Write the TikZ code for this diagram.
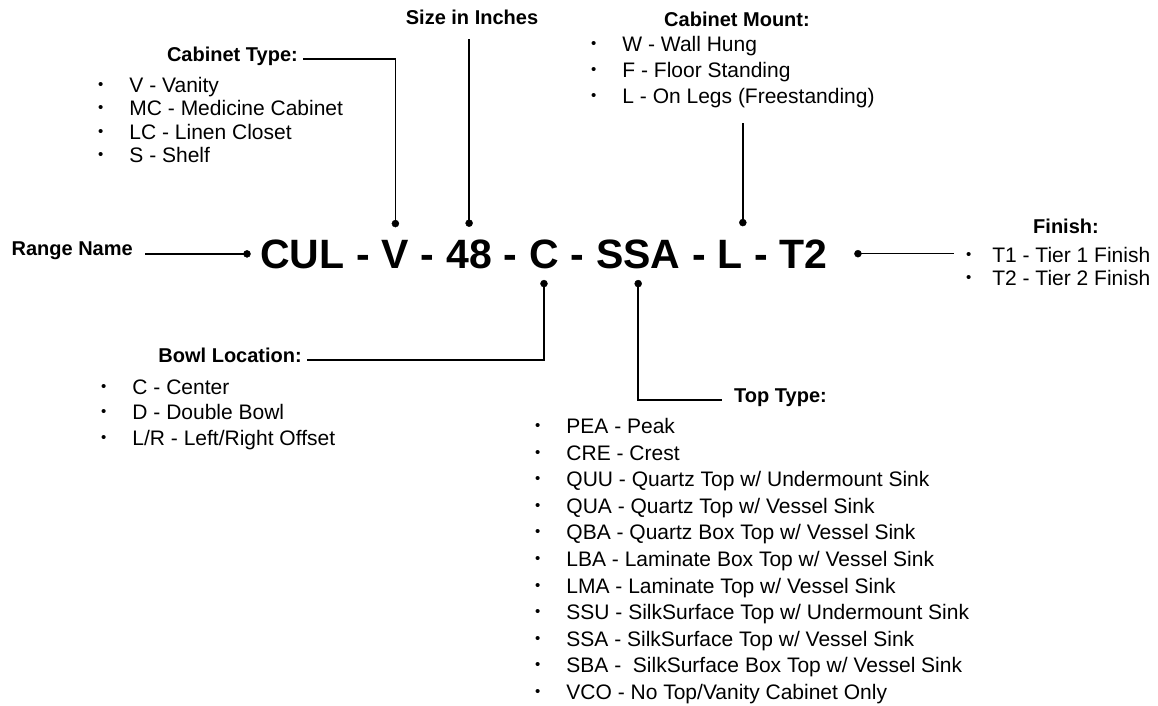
\documentclass[tikz,border=0pt]{standalone}
\usepackage{fontspec}
\setmainfont{Liberation Sans}
\usetikzlibrary{positioning}
\newcommand\itm[1][26pt]{\raisebox{3pt}{\fontsize{15}{15}\selectfont\textbullet}\hspace{#1}}
\newcommand\optlist[2]{\fontsize{21}{#1}\selectfont\begin{tabular}[t]{@{}l@{}}#2\end{tabular}}
\begin{document}
\begin{tikzpicture}[x=1pt, y=-1pt,
    lbl/.style={font=\fontsize{20}{24}\selectfont\bfseries, inner xsep=5pt, inner ysep=0pt},
    seg/.style={font=\fontsize{41}{41}\selectfont\bfseries, inner sep=0pt},
    hyph/.style={seg, inner xsep=11.4pt},
    lst/.style={inner sep=0pt, anchor=base west},
    wire/.style={line width=1.5pt}]
    \useasboundingbox (0,0) rectangle (1158,706);
    % Product code, one node per part
    \node[seg, anchor=base west] (cul) at (260,268) {CUL};
    \node[hyph, base right=0pt of cul] (h1) {-};
    \node[seg, base right=0pt of h1] (v) {V};
    \node[hyph, base right=0pt of v] (h2) {-};
    \node[seg, base right=0pt of h2] (inch) {48};
    \node[hyph, base right=0pt of inch] (h3) {-};
    \node[seg, base right=0pt of h3] (c) {C};
    \node[hyph, base right=0pt of c] (h4) {-};
    \node[seg, base right=0pt of h4] (ssa) {SSA};
    \node[hyph, base right=0pt of ssa] (h5) {-};
    \node[seg, base right=0pt of h5] (l) {L};
    \node[hyph, base right=0pt of l] (h6) {-};
    \node[seg, base right=0pt of h6] (t2) {T2};
    % pin points
    \coordinate[left=13pt of cul] (rdot);
    \coordinate[above=16pt of v] (vdot);
    \coordinate[above=16pt of inch] (idot);
    \coordinate[above=17pt of l.north east] (mdot);
    \coordinate[below=15pt of c] (cdot);
    \coordinate[below=15pt of ssa] (sdot);
    \coordinate[right=30pt of t2] (fdot);
    % Labels and lists
    \node[lbl, inner xsep=12pt, anchor=mid east] (range) at (145,253) {Range Name};
    \node[lbl, anchor=mid east] (ctype) at (303,59) {Cabinet Type:};
    \node[lst] (ctlist) at (98,92.7) {\optlist{23.3}{\itm V - Vanity\\ \itm MC - Medicine Cabinet\\ \itm LC - Linen Closet\\ \itm S - Shelf}};
    \node[lbl, inner ysep=14pt, anchor=base] (sizelbl) at (472,25) {Size in Inches};
    \node[lbl, anchor=base] (mount) at (737,27) {Cabinet Mount:};
    \node[lst] (mlist) at (591,52) {\optlist{26}{\itm W - Wall Hung\\ \itm F - Floor Standing\\ \itm L - On Legs (Freestanding)}};
    \node[lbl, anchor=base] (finish) at (1066,233) {Finish:};
    \node[lst] (flist) at (966,262) {\optlist{23}{\itm[15pt] T1 - Tier 1 Finish\\ \itm[15pt] T2 - Tier 2 Finish}};
    \node[lbl, anchor=mid east] (bowl) at (307,360) {Bowl Location:};
    \node[lst] (blist) at (101,394) {\optlist{25.5}{\itm C - Center\\ \itm D - Double Bowl\\ \itm L/R - Left/Right Offset}};
    \node[lbl, inner xsep=12pt, anchor=mid west] (top) at (722,400) {Top Type:};
    \node[lst] (tlist) at (535,433.5) {\optlist{26.6}{\itm PEA - Peak\\ \itm CRE - Crest\\ \itm QUU - Quartz Top w/ Undermount Sink\\ \itm QUA - Quartz Top w/ Vessel Sink\\ \itm QBA - Quartz Box Top w/ Vessel Sink\\ \itm LBA - Laminate Box Top w/ Vessel Sink\\ \itm LMA - Laminate Top w/ Vessel Sink\\ \itm SSU - SilkSurface Top w/ Undermount Sink\\ \itm SSA - SilkSurface Top w/ Vessel Sink\\ \itm SBA - \ SilkSurface Box Top w/ Vessel Sink\\ \itm VCO - No Top/Vanity Cabinet Only}};
    % Connectors
    \draw[wire] (rdot) -- (rdot -| range.mid east);
    \draw[wire] (vdot) |- (ctype.mid east);
    \draw[wire] (idot) -- (idot |- sizelbl.south);
    \draw[wire, shorten >=11pt] (mdot) -- (mdot |- mlist.south);
    \draw[wire, shorten >=12pt] (fdot) -- (fdot -| flist.west);
    \draw[wire] (cdot) |- (bowl.mid east);
    \draw[wire] (sdot) |- (top.mid west);
    \foreach \p in {rdot,vdot,idot,mdot,cdot,sdot,fdot}
        \filldraw (\p) circle (3.5pt);
\end{tikzpicture}
\end{document}
